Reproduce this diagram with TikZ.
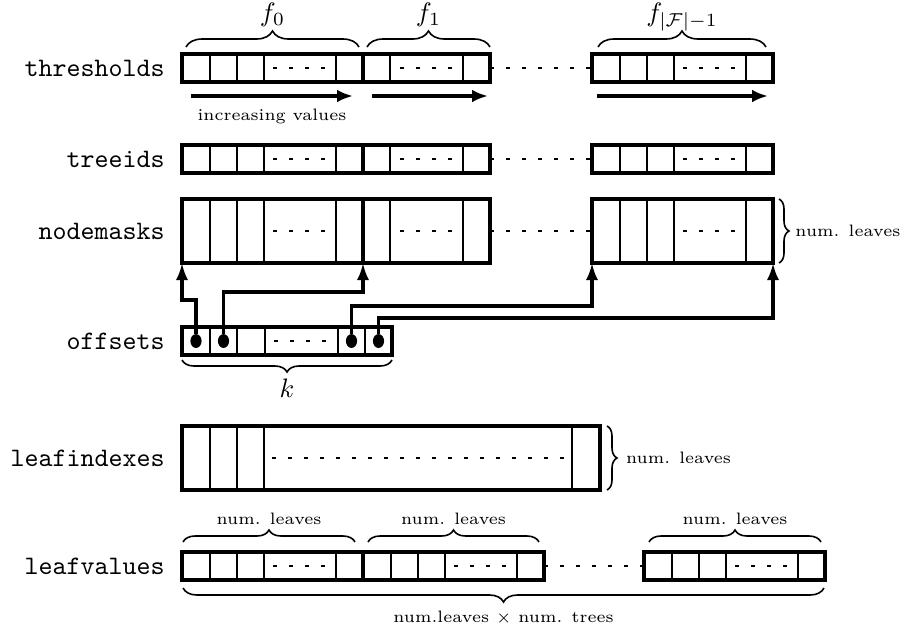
\documentclass[tikz,border=0pt]{standalone}
\usepackage{tikz}
\usetikzlibrary{arrows.meta,decorations.pathreplacing,shapes.geometric,positioning}

\tikzset{
  memblock/.style={draw, very thick, inner sep=0pt, outer sep=0pt, anchor=north west},
  cellsep/.style={thin},
  gap/.style={thin, dash pattern=on 1.5pt off 4.5pt},
  rowname/.style={font=\ttfamily},
  note/.style={font=\fontsize{6.2}{7.4}\selectfont},
  flabel/.style={text height=7pt, text depth=2pt},
  ptr/.style={very thick, -{Latex[length=6.4pt,width=4.6pt]}},
  incr/.style={very thick, -{Latex[length=6pt,width=4.8pt]}},
  brc/.style={decorate, decoration={brace, amplitude=#1}, semithick},
  brc/.default=4.5pt,
  dotmark/.style={ellipse, fill, inner sep=0pt, minimum width=4.2pt, minimum height=5.2pt},
  % five cells: four plain ones and a dashed one
  fivecell/.pic={
    \node[memblock, minimum width=181*0.375pt, minimum height=#1*0.375pt] (-box) at (0,0) {};
    \foreach \d in {28,55,82,154} \draw[cellsep] (\d,0) -- (\d,#1);
    \draw[gap] (91,#1/2) -- (146,#1/2);
  },
  % three cells, the middle one dashed
  threecell/.pic={
    \node[memblock, minimum width=127*0.375pt, minimum height=#1*0.375pt] (-box) at (0,0) {};
    \foreach \d in {27,100} \draw[cellsep] (\d,0) -- (\d,#1);
    \draw[gap] (37,#1/2) -- (90,#1/2);
  }
}

\begin{document}
\begin{tikzpicture}[x=0.375pt,y=-0.375pt]
  \useasboundingbox (0,0) rectangle (903,630);

  % thresholds
  \pic (thr0) at (182,54) {fivecell=28};
  \pic (thr1) at (363,54) {threecell=28};
  \pic (thrL) at (592,54) {fivecell=28};
  \draw[gap] (thr1-box) -- (thrL-box);
  \node[rowname, left=3pt of thr0-box] {thresholds};
  \draw[brc=6pt] ([shift={(4,-7)}]thr0-box.north west) -- ([shift={(-4,-7)}]thr0-box.north east)
    node[midway, above=4pt, flabel] {$f_0$};
  \draw[brc=6pt] ([shift={(4,-7)}]thr1-box.north west) -- ([shift={(0,-7)}]thr1-box.north east)
    node[midway, above=4pt, flabel] {$f_1$};
  \draw[brc=6pt] ([shift={(6,-7)}]thrL-box.north west) -- ([shift={(-7,-7)}]thrL-box.north east)
    node[midway, above=4pt, flabel] {$f_{|\mathcal{F}|-1}$};
  \draw[incr] ([shift={(9,14)}]thr0-box.south west) -- ([shift={(-10,14)}]thr0-box.south east)
    node[midway, below=1pt, note] {increasing values};
  \draw[incr] ([shift={(9,14)}]thr1-box.south west) -- ([shift={(-2,14)}]thr1-box.south east);
  \draw[incr] ([shift={(5,14)}]thrL-box.south west) -- ([shift={(-5,14)}]thrL-box.south east);

  % treeids
  \pic (tr0) at (182,145) {fivecell=28};
  \pic (tr1) at (363,145) {threecell=28};
  \pic (trL) at (592,145) {fivecell=28};
  \draw[gap] (tr1-box) -- (trL-box);
  \node[rowname, left=3pt of tr0-box] {treeids};

  % nodemasks
  \pic (nm0) at (182,199) {fivecell=64};
  \pic (nm1) at (363,199) {threecell=64};
  \pic (nmL) at (592,199) {fivecell=64};
  \draw[gap] (nm1-box) -- (nmL-box);
  \node[rowname, left=3pt of nm0-box] {nodemasks};
  \draw[brc=3.75pt] ([shift={(6,0)}]nmL-box.north east) -- ([shift={(6,0)}]nmL-box.south east)
    node[midway, right=2.5pt, note] {num. leaves};

  % offsets
  \node[memblock, minimum width=210*0.375pt, minimum height=28*0.375pt] (off) at (182,327) {};
  \foreach \d in {210,237,265,338,365} \draw[cellsep] (\d,327) -- (\d,355);
  \draw[gap] (274,341) -- (330,341);
  \node[rowname, left=3pt of off] {offsets};
  \node[dotmark] (o1) at (196,341) {};
  \node[dotmark] (o2) at (223.5,341) {};
  \node[dotmark] (o5) at (351.5,341) {};
  \node[dotmark] (o6) at (378.5,341) {};
  \draw[brc] ([shift={(0,5)}]off.south east) -- ([shift={(0,5)}]off.south west)
    node[midway, below=3.5pt] {$k$};

  % offsets point into nodemasks
  \draw[ptr] (o1) |- ([shift={(0,37)}]nm0-box.south west) -- (nm0-box.south west);
  \draw[ptr] (o2) |- ([shift={(0,29)}]nm0-box.south east) -- (nm0-box.south east);
  \draw[ptr] (o5) |- ([shift={(0,43)}]nmL-box.south west) -- (nmL-box.south west);
  \draw[ptr] (o6) |- ([shift={(0,55)}]nmL-box.south east) -- (nmL-box.south east);

  % leafindexes
  \node[memblock, minimum width=418*0.375pt, minimum height=64*0.375pt] (li) at (182,426) {};
  \foreach \d in {210,237,264,572} \draw[cellsep] (\d,426) -- (\d,490);
  \draw[gap] (272,458) -- (566,458);
  \node[rowname, left=3pt of li] {leafindexes};
  \draw[brc=3.75pt] ([shift={(7,0)}]li.north east) -- ([shift={(7,0)}]li.south east)
    node[midway, right=3.5pt, note] {num. leaves};

  % leafvalues
  \pic (lv0) at (182,552) {fivecell=28};
  \pic (lv1) at (363,552) {fivecell=28};
  \pic (lvL) at (644,552) {fivecell=28};
  \draw[gap] (lv1-box) -- (lvL-box);
  \node[rowname, left=3pt of lv0-box] {leafvalues};
  \draw[brc] ([shift={(1,-10)}]lv0-box.north west) -- ([shift={(-8,-10)}]lv0-box.north east)
    node[midway, above=3pt, note] {num. leaves};
  \draw[brc] ([shift={(5,-10)}]lv1-box.north west) -- ([shift={(-5,-10)}]lv1-box.north east)
    node[midway, above=3pt, note] {num. leaves};
  \draw[brc] ([shift={(5,-10)}]lvL-box.north west) -- ([shift={(-4,-10)}]lvL-box.north east)
    node[midway, above=3pt, note] {num. leaves};
  \draw[brc=5.25pt] ([shift={(-1,8)}]lvL-box.south east) -- ([shift={(1,8)}]lv0-box.south west)
    node[midway, below=5pt, note] {num.leaves $\times$ num. trees};
\end{tikzpicture}
\end{document}
